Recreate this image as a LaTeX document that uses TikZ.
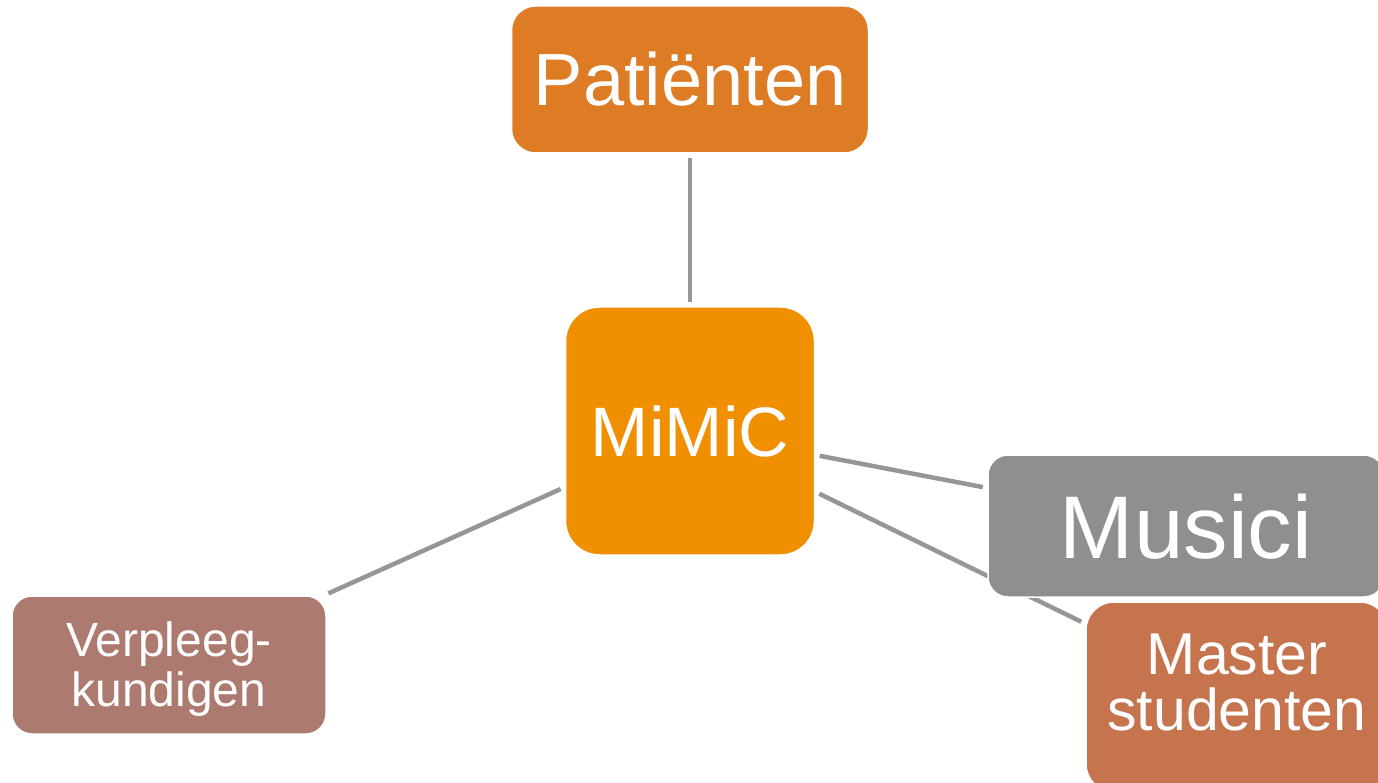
\documentclass[tikz,border=0pt]{standalone}
\usepackage{fontspec}
\setmainfont{Liberation Sans}
\usetikzlibrary{positioning, backgrounds}
\definecolor{patient_orange}{RGB}{222,124,38}
\definecolor{mimic_orange}{RGB}{240,144,0}
\definecolor{musici_grey}{RGB}{143,143,143}
\definecolor{master_brown}{RGB}{197,116,78}
\definecolor{nurse_brown}{RGB}{173,122,112}
\definecolor{link_grey}{RGB}{150,150,150}
\tikzstyle{group_box}=[rectangle, draw=white, line width=1.5pt, text=white, inner sep=0pt, align=center]
\tikzstyle{link} = [draw=link_grey, line width=4.5pt, shorten >=4.5pt, shorten <=4.5pt]

\begin{document}
\begin{tikzpicture}[x=1pt, y=-1pt]

\useasboundingbox (0,0) rectangle (1378,783);
\clip (0,0) rectangle (1378,783);

% MiMiC in the middle
\node [group_box, fill=mimic_orange, rounded corners=34pt,
       minimum width=249pt, minimum height=248pt,
       font=\fontsize{70}{84}\selectfont, text height=50pt, text depth=0pt]
      (mimic) at (690,431) {MiMiC};

% groups round it
\node [group_box, fill=patient_orange, rounded corners=24pt,
       minimum width=357pt, minimum height=147pt,
       font=\fontsize{74}{88}\selectfont, text height=53pt, text depth=0pt]
      (patients) at (690,79.5) {Patiënten};
\node [group_box, fill=musici_grey, rounded corners=20pt,
       minimum width=396pt, minimum height=142pt,
       font=\fontsize{89}{106}\selectfont, text height=64pt, text depth=0pt]
      (musici) at (1186,526) {Musici};
\node [group_box, fill=master_brown, rounded corners=28pt,
       minimum width=302pt, minimum height=190pt,
       font=\fontsize{59}{56}\selectfont, text height=66pt, text depth=0pt]
      (master) at (1237,697) {Master\\studenten};
\node [group_box, fill=nurse_brown, rounded corners=20pt,
       minimum width=314pt, minimum height=138pt,
       font=\fontsize{48}{50}\selectfont, text height=82pt, text depth=0pt]
      (nurses) at (169,665) {Verpleeg-\\kundigen};

% links, behind the boxes
\begin{scope}[on background layer]
\draw[link] (patients) -- (mimic);
\draw[link] (mimic) -- (musici);
\draw[link] (mimic) -- (master);
\draw[link] (mimic) -- (nurses);
\end{scope}

\end{tikzpicture}
\end{document}
